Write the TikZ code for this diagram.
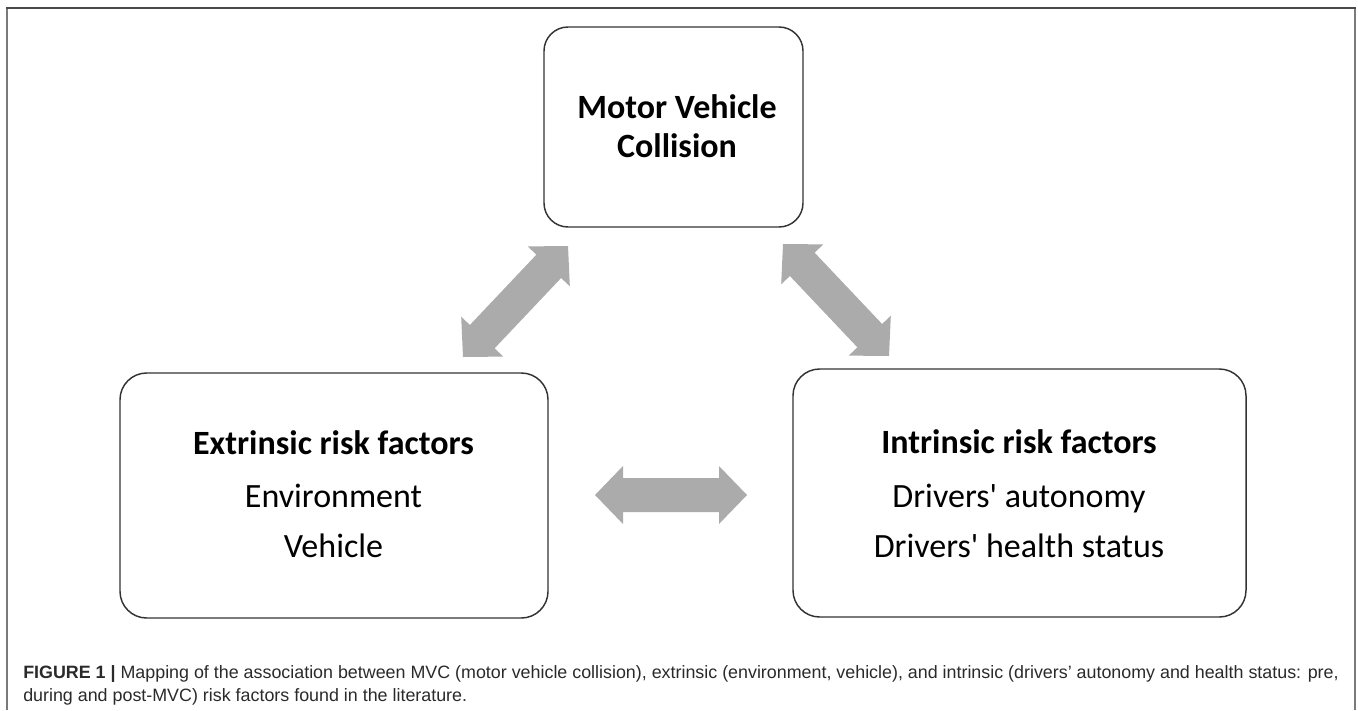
\documentclass[tikz,border=0pt]{standalone}
\usepackage{fontspec}
\setmainfont{Carlito}
\newfontfamily\capfont{Liberation Sans}
\usetikzlibrary{calc}
\definecolor{arrowgray}{HTML}{ABABAB}
\definecolor{boxline}{HTML}{333333}
\definecolor{framedark}{HTML}{4A4A4A}
\definecolor{frameside}{HTML}{7A7A7A}
\definecolor{captext}{HTML}{2A2A2A}
% fat double arrow between two named coordinates
\newcommand\fatarrow[2]{%
  \fill[arrowgray] (#1)
    -- ($(#1)!21pt!(#2)!21.75pt!90:(#2)$)
    -- ($(#1)!21pt!(#2)!12.75pt!90:(#2)$)
    -- ($(#2)!21pt!(#1)!12.75pt!-90:(#1)$)
    -- ($(#2)!21pt!(#1)!21.75pt!-90:(#1)$)
    -- (#2)
    -- ($(#2)!21pt!(#1)!21.75pt!90:(#1)$)
    -- ($(#2)!21pt!(#1)!12.75pt!90:(#1)$)
    -- ($(#1)!21pt!(#2)!12.75pt!-90:(#2)$)
    -- ($(#1)!21pt!(#2)!21.75pt!-90:(#2)$)
    -- cycle;}
\tikzset{
  boxstyle/.style={draw=boxline, line width=1.1pt, rounded corners=18pt, inner sep=0pt},
  boxtxt/.style={font=\fontsize{25.5pt}{30pt}\selectfont, anchor=base, inner sep=0pt, text=black},
  boxtxtb/.style={boxtxt, font=\fontsize{25.5pt}{30pt}\selectfont\bfseries},
  captxt/.style={font=\capfont\fontsize{13.4pt}{16pt}\selectfont, anchor=base west, inner sep=0pt, text=captext},
}
\begin{document}
\begin{tikzpicture}[x=0.75pt, y=-0.75pt]
\useasboundingbox (0,0) rectangle (1358,710);
% outer frame
\draw[frameside, line width=1.5pt] (7,710) -- (7,8.5);
\draw[frameside, line width=1.5pt] (1355,710) -- (1355,8.5);
\draw[framedark, line width=1.2pt] (6.2,8) -- (1355.8,8);
% boxes
\node[boxstyle, minimum width=194.25pt, minimum height=150pt] (mvc) at (673.5,127) {};
\node[boxstyle, minimum width=321pt, minimum height=183.75pt, rounded corners=20pt] (ext) at (334,495.5) {};
\node[boxstyle, minimum width=339.75pt, minimum height=186pt, rounded corners=20pt] (int) at (1019.5,493) {};
% texts
\node[boxtxtb] (mvc1) at (677,118) {Motor Vehicle};
\node[boxtxtb] (mvc2) at (677,157) {Collision};
\node[boxtxtb] (ext1) at (333.5,454) {Extrinsic risk factors};
\node[boxtxt] (ext2) at (333.5,507) {Environment};
\node[boxtxt] (ext3) at (333.5,557) {Vehicle};
\node[boxtxtb] (int1) at (1019,453) {Intrinsic risk factors};
\node[boxtxt] (int2) at (1019,507) {Drivers\textquotesingle{} autonomy};
\node[boxtxt] (int3) at (1019,557) {Drivers\textquotesingle{} health status};
% arrow end points
\coordinate (h1) at (595,495);
\coordinate (h2) at (747,495);
\coordinate (l1) at (463,357);
\coordinate (l2) at (568,246);
\coordinate (r1) at (783,244);
\coordinate (r2) at (889,356);
\fatarrow{h1}{h2}
\fatarrow{l1}{l2}
\fatarrow{r1}{r2}
% caption
\node[captxt] (cap1) at (23,678) {\textbf{FIGURE 1 |} Mapping of the association between MVC (motor vehicle collision), extrinsic (environment, vehicle), and intrinsic (drivers’ autonomy and health status: pre,};
\node[captxt] (cap2) at (23,701) {during and post-MVC) risk factors found in the literature.};
\end{tikzpicture}
\end{document}
